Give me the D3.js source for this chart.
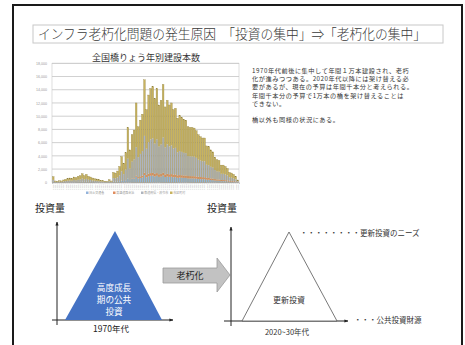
<!DOCTYPE html>
<html><head><meta charset="utf-8">
<script src="https://cdn.jsdelivr.net/npm/d3@7"></script>
<style>body{margin:0;background:#fff}svg{display:block;font-family:"Noto Sans CJK JP","Noto Sans",sans-serif}</style>
</head><body><svg id="c" width="465" height="345"></svg>
<script>
const years = d3.range(1920, 2010);
const seriesNames = ["国土交通省","高速道路会社","都道府県・政令市","市区町村"];
const mlit = [60,15,10,20,15,25,30,40,45,40,55,50,65,70,90,70,85,65,55,45,40,35,30,20,20,10,10,30,15,110,100,120,170,270,200,320,580,340,500,550,840,590,660,720,1090,770,920,990,1020,890,990,820,870,1040,800,870,820,840,770,780,680,710,690,670,660,590,580,580,570,550,500,480,470,470,390,380,340,320,270,240,230,180,180,170,150,110,100,80,60,25];
const expressway = [0,0,0,0,0,0,0,0,0,0,0,0,0,0,0,0,0,0,0,0,0,0,0,0,0,0,0,0,0,0,0,0,0,0,0,0,0,0,50,80,150,200,250,300,350,350,400,400,400,400,400,400,400,400,400,400,400,400,400,400,380,380,380,370,370,360,360,350,350,340,330,320,310,300,280,270,250,240,220,200,190,170,160,150,130,110,100,90,70,30];
const prefecture = [300,70,50,90,70,120,160,200,230,210,290,250,320,360,470,360,430,320,290,230,200,180,140,110,90,50,35,140,70,540,500,610,860,1400,1040,1620,2990,1760,2590,2840,4320,3020,3380,3710,5580,3960,4750,5110,5220,4570,5110,4210,4460,5330,4100,4460,4210,4320,3960,4030,3490,3640,3530,3420,3380,3020,2990,2990,2950,2810,2590,2480,2410,2410,1980,1940,1760,1660,1370,1220,1190,940,940,860,760,540,500,430,320,130];
const municipal = [490,115,90,140,115,205,260,310,375,350,455,400,515,570,740,570,685,515,455,375,310,285,230,170,140,90,55,230,115,850,800,970,1370,2230,1660,2560,4730,2800,4060,4430,6690,4590,5110,5570,8480,5920,7130,7700,7860,6840,7700,6270,6670,8030,6100,6670,6270,6440,5870,5990,5150,5370,5200,5040,4990,4430,4370,4380,4330,4100,3780,3620,3510,3520,2850,2810,2550,2380,1940,1740,1690,1310,1320,1220,1060,740,700,600,450,165];
const yTicks = [0,2000,4000,6000,8000,10000,12000,14000,16000,18000];
const textLines = ["1970年代前後に集中して年間１万本建設され、老朽","化が進みつつある。2020年代以降には架け替える必","要があるが、現在の予算は年間千本分と考えられる。","年間千本分の予算で1万本の橋を架け替えることは","できない。","","橋以外も同様の状況にある。"];
const colors = ["#93b3db","#e08c5e","#aeb4be","#c8b35f"];

const svg = d3.select("#c");
svg.append("rect").attr("x",13).attr("y",5).attr("width",449).attr("height",360)
  .attr("fill","none").attr("stroke","#1a1a1a").attr("stroke-width",2);
svg.append("rect").attr("x",33).attr("y",25).attr("width",410).attr("height",18)
  .attr("fill","#fff").attr("stroke","#c8c8c8").attr("stroke-width",1);
svg.append("text").attr("x",38).attr("y",39).attr("font-size",13.5).attr("fill","#3a3a3a").attr("font-weight",300)
  .attr("textLength",388).attr("lengthAdjust","spacingAndGlyphs")
  .text("インフラ老朽化問題の発生原因　「投資の集中」⇒「老朽化の集中」");

const x = d3.scaleBand().domain(years).range([52,239]).padding(0.18);
const y = d3.scaleLinear().domain([0,18000]).range([182.3,63.3]);
svg.append("text").attr("x",146).attr("y",60.5).attr("text-anchor","middle").attr("font-size",9).attr("fill","#333").text("全国橋りょう年別建設本数");
const g = svg.append("g");
g.selectAll("line.grid").data(yTicks).join("line").attr("x1",52).attr("x2",239)
  .attr("y1",d=>y(d)).attr("y2",d=>y(d)).attr("stroke","#c4c4c4").attr("stroke-width",0.8);
g.append("rect").attr("x",52).attr("y",63.3).attr("width",187).attr("height",119).attr("fill","none").attr("stroke","#c8c8c8").attr("stroke-width",0.6);
const yAxis = d3.axisLeft(y).tickValues(yTicks).tickSize(0).tickFormat(d3.format(","));
const ya = svg.append("g").attr("transform","translate(50,0)").call(yAxis);
ya.select(".domain").remove();
ya.selectAll("text").attr("font-size",3.6).attr("fill","#999");

const table = years.map((yr,i)=>({year:yr,a:mlit[i],b:expressway[i],c:prefecture[i],d:municipal[i]}));
const stack = d3.stack().keys(["a","b","c","d"])(table);
g.selectAll("g.s").data(stack).join("g").attr("fill",(d,i)=>colors[i])
  .selectAll("rect").data(d=>d).join("rect")
  .attr("x",d=>x(d.data.year)).attr("width",x.bandwidth())
  .attr("y",d=>y(d[1])).attr("height",d=>Math.max(0,y(d[0])-y(d[1])));
g.selectAll("rect.top").data(table).join("rect").attr("class","top")
  .attr("x",d=>x(d.year)).attr("width",x.bandwidth())
  .attr("y",d=>y(d.a+d.b+d.c+d.d)).attr("height",d=>y(0)-y(d.a+d.b+d.c+d.d))
  .attr("fill","none").attr("stroke","#8e7f3c").attr("stroke-width",0.3);
const xAxis = d3.axisBottom(x).tickSize(1.5).tickFormat(d=>d);
const xa = svg.append("g").attr("transform","translate(0,182.3)").call(xAxis);
xa.select(".domain").attr("stroke","#999").attr("stroke-width",0.6);
xa.selectAll(".tick line").attr("stroke","#bbb").attr("stroke-width",0.3);
xa.selectAll("text").attr("font-size",2.4).attr("fill","#aaa").attr("transform","rotate(-90)").attr("x",-2).attr("y",0).attr("dy","0.35em").attr("text-anchor","end");
const legX = [86,113,141,170];
const lg = svg.append("g").selectAll("g").data(seriesNames).join("g").attr("transform",(d,i)=>`translate(${legX[i]},193)`);
lg.append("rect").attr("x",0).attr("y",-1.5).attr("width",2.5).attr("height",2.5).attr("fill",(d,i)=>colors[i]);
lg.append("text").attr("x",3.3).attr("y",1).attr("font-size",3.0).attr("fill","#999").text(d=>d);

svg.append("g").selectAll("text").data(textLines).join("text")
  .attr("x",252).attr("y",(d,i)=>73+i*8.2).attr("font-size",6.2).attr("letter-spacing",0.55).attr("fill","#333").text(d=>d);

const defs = svg.append("defs");
defs.append("marker").attr("id","ah").attr("viewBox","0 0 10 10").attr("refX",9).attr("refY",5)
  .attr("markerWidth",4).attr("markerHeight",4).attr("orient","auto")
  .append("path").attr("d","M0,1L10,5L0,9z").attr("fill","#222");
function axes(xv, ytop, ybase, xleft, xright){
  svg.append("line").attr("x1",xv).attr("x2",xv).attr("y1",ybase+5).attr("y2",ytop).attr("stroke","#222").attr("stroke-width",1).attr("marker-end","url(#ah)");
  svg.append("line").attr("x1",xleft).attr("x2",xright).attr("y1",ybase).attr("y2",ybase).attr("stroke","#222").attr("stroke-width",1).attr("marker-end","url(#ah)");
}
svg.append("text").attr("x",35).attr("y",212).attr("font-size",10).attr("fill","#222").text("投資量");
svg.append("text").attr("x",207).attr("y",212).attr("font-size",10).attr("fill","#222").text("投資量");
axes(57,222,320,52,173);
svg.append("path").attr("d","M65,320L115,231L162,320Z").attr("fill","#4472c4");
["高度成長","期の公共","投資"].forEach((t,i)=>svg.append("text").attr("x",114).attr("y",291+i*12).attr("text-anchor","middle").attr("font-size",8.6).attr("fill","#fff").text(t));
svg.append("text").attr("x",111).attr("y",332).attr("text-anchor","middle").attr("font-size",8.5).attr("fill","#222").text("1970年代");
svg.append("path").attr("d","M163,268L217,268L217,258L230,275L217,292L217,283L163,283Z").attr("fill","#c2c2c2").attr("stroke","#9a9a9a").attr("stroke-width",0.8);
svg.append("text").attr("x",190).attr("y",279).attr("text-anchor","middle").attr("font-size",9).attr("fill","#222").text("老朽化");
axes(231,227,321,224,348);
svg.append("path").attr("d","M242,321L289,232L337,321Z").attr("fill","#fff").attr("stroke","#555").attr("stroke-width",0.8);
svg.append("text").attr("x",289).attr("y",303).attr("text-anchor","middle").attr("font-size",8).attr("fill","#333").text("更新投資");
svg.append("text").attr("x",287).attr("y",335).attr("text-anchor","middle").attr("font-size",7.5).attr("fill","#333").text("2020~30年代");
svg.append("text").attr("x",300).attr("y",236).attr("font-size",7.5).attr("fill","#333").text("・・・・・・・・更新投資のニーズ");
svg.append("text").attr("x",354).attr("y",323).attr("font-size",7.5).attr("fill","#333").text("・・・公共投資財源");
</script></body></html>
